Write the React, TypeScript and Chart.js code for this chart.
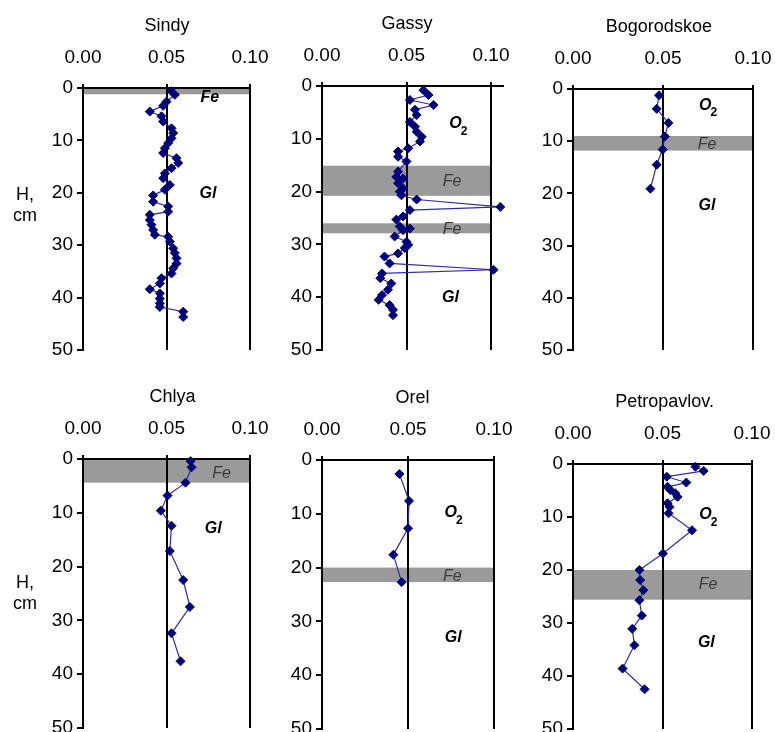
import React, { useEffect, useRef } from "react";
import { Chart, registerables } from "chart.js";

Chart.register(...registerables);

const FONT = '"Liberation Sans", Arial, Helvetica, sans-serif';

// ---- axis ticks ----
const xTickValues = [0, 0.05, 0.1];
const depthTickValues = [0, 10, 20, 30, 40, 50];

// ---- Sindy ----
const sindyDepth = [0.6, 1.3, 2.6, 3.4, 4.5, 5.4, 6.4, 7.7, 8.6, 9.6, 10.5, 11.5, 12.4, 13.4, 14.3, 15.3, 16.3, 17.2, 18.5, 19.4, 20.5, 21.7, 22.6, 23.6, 24.2, 25.2, 26.1, 27.1, 28.0, 28.4, 29.3, 30.6, 31.5, 32.5, 33.5, 34.4, 35.4, 36.3, 37.3, 38.4, 39.2, 40.2, 41.1, 41.8, 42.7, 43.7];
const sindyValue = [0.053, 0.055, 0.050, 0.048, 0.040, 0.047, 0.048, 0.053, 0.054, 0.053, 0.051, 0.049, 0.048, 0.056, 0.057, 0.053, 0.049, 0.048, 0.052, 0.049, 0.042, 0.042, 0.051, 0.051, 0.040, 0.040, 0.041, 0.042, 0.043, 0.051, 0.052, 0.054, 0.055, 0.056, 0.056, 0.054, 0.053, 0.047, 0.046, 0.040, 0.046, 0.046, 0.046, 0.046, 0.060, 0.060];
const sindyBands = [[0, 1.2]];

// ---- Gassy ----
const gassyDepth = [0.8, 1.7, 2.65, 3.6, 4.5, 5.5, 6.8, 7.7, 8.65, 9.6, 10.5, 11.8, 12.4, 13.4, 14.3, 16.2, 17.2, 17.5, 18.4, 19.4, 20.0, 20.7, 21.5, 22.9, 23.5, 24.7, 25.3, 26.6, 27.0, 27.3, 28.5, 29.5, 30.1, 30.7, 31.7, 32.3, 33.6, 34.8, 35.5, 36.4, 37.4, 38.6, 39.6, 40.5, 41.5, 42.4, 43.4];
const gassyValue = [0.060, 0.063, 0.052, 0.066, 0.055, 0.056, 0.052, 0.055, 0.056, 0.059, 0.058, 0.051, 0.045, 0.045, 0.050, 0.045, 0.044, 0.048, 0.045, 0.048, 0.046, 0.047, 0.056, 0.1055, 0.052, 0.048, 0.044, 0.046, 0.052, 0.048, 0.043, 0.050, 0.051, 0.049, 0.045, 0.037, 0.040, 0.1015, 0.0355, 0.0345, 0.041, 0.039, 0.0355, 0.0335, 0.040, 0.042, 0.042];
const gassyBands = [[15.1, 20.8], [26.0, 27.9]];

// ---- Bogorodskoe ----
const bogorDepth = [1.2, 3.8, 6.5, 9.1, 11.6, 14.5, 19.1];
const bogorValue = [0.0478, 0.0465, 0.053, 0.051, 0.0498, 0.0465, 0.043];
const bogorBands = [[9.0, 11.8]];

// ---- Chlya ----
const chlyaDepth = [0.4, 1.55, 4.4, 6.8, 9.6, 12.4, 17.1, 22.5, 27.5, 32.4, 37.6];
const chlyaValue = [0.0644, 0.065, 0.0614, 0.0506, 0.0466, 0.053, 0.052, 0.060, 0.064, 0.053, 0.0584];
const chlyaBands = [[0, 4.4]];

// ---- Orel ----
const orelDepth = [2.6, 7.6, 12.7, 17.6, 22.7];
const orelValue = [0.045, 0.0506, 0.050, 0.0415, 0.0463];
const orelBands = [[20.0, 22.7]];

// ---- Petropavlov. ----
const petroDepth = [0.5, 1.3, 2.4, 3.5, 4.3, 4.9, 5.5, 6.2, 7.4, 8.1, 9.3, 12.5, 16.9, 20.0, 21.9, 23.8, 25.7, 28.6, 31.1, 34.2, 38.6, 42.5];
const petroValue = [0.0684, 0.073, 0.0524, 0.0633, 0.0528, 0.0543, 0.0571, 0.0584, 0.0528, 0.054, 0.0534, 0.0665, 0.0502, 0.0371, 0.0375, 0.0393, 0.0371, 0.0384, 0.0331, 0.0343, 0.0277, 0.040];
const petroBands = [[20.0, 25.6]];

// ---- zone labels (data coordinates) ----
type ZoneLabel = { text: string; sub?: string; x: number; y: number; band?: boolean };
const sindyLabels: ZoneLabel[] = [
  { text: "Fe", x: 0.076, y: 1.9 },
  { text: "Gl", x: 0.0748, y: 20.1 },
];
const gassyLabels: ZoneLabel[] = [
  { text: "O", sub: "2", x: 0.079, y: 7.2 },
  { text: "Fe", x: 0.077, y: 18.1, band: true },
  { text: "Fe", x: 0.077, y: 27.2, band: true },
  { text: "Gl", x: 0.076, y: 40.1 },
];
const bogorLabels: ZoneLabel[] = [
  { text: "O", sub: "2", x: 0.0735, y: 3.1 },
  { text: "Fe", x: 0.0745, y: 10.6, band: true },
  { text: "Gl", x: 0.0744, y: 22.3 },
];
const chlyaLabels: ZoneLabel[] = [
  { text: "Fe", x: 0.083, y: 2.7, band: true },
  { text: "Gl", x: 0.078, y: 12.9 },
];
const orelLabels: ZoneLabel[] = [
  { text: "O", sub: "2", x: 0.0748, y: 9.8 },
  { text: "Fe", x: 0.0758, y: 21.7, band: true },
  { text: "Gl", x: 0.0763, y: 33.0 },
];
const petroLabels: ZoneLabel[] = [
  { text: "O", sub: "2", x: 0.074, y: 9.5 },
  { text: "Fe", x: 0.0754, y: 22.8, band: true },
  { text: "Gl", x: 0.0745, y: 33.7 },
];

type PanelCfg = {
  title: string;
  depth: number[];
  value: number[];
  bands: number[][];
  labels: ZoneLabel[];
  box: { x0: number; x1: number; y0: number; y1: number };
  xMax: number;
  titleAt: number;
  hLabelAt?: number;
};

const PANELS: PanelCfg[] = [
  { title: "Sindy", depth: sindyDepth, value: sindyValue, bands: sindyBands, labels: sindyLabels, box: { x0: 83, x1: 250, y0: 88, y1: 350 }, xMax: 0.1, titleAt: 0.0503, hLabelAt: 21.4 },
  { title: "Gassy", depth: gassyDepth, value: gassyValue, bands: gassyBands, labels: gassyLabels, box: { x0: 322, x1: 491, y0: 86, y1: 350 }, xMax: 0.107, titleAt: 0.0503 },
  { title: "Bogorodskoe", depth: bogorDepth, value: bogorValue, bands: bogorBands, labels: bogorLabels, box: { x0: 573, x1: 753, y0: 89, y1: 350 }, xMax: 0.1, titleAt: 0.0477 },
  { title: "Chlya", depth: chlyaDepth, value: chlyaValue, bands: chlyaBands, labels: chlyaLabels, box: { x0: 83, x1: 250, y0: 459, y1: 728 }, xMax: 0.1, titleAt: 0.0536, hLabelAt: 24.0 },
  { title: "Orel", depth: orelDepth, value: orelValue, bands: orelBands, labels: orelLabels, box: { x0: 322, x1: 494, y0: 460, y1: 729 }, xMax: 0.1, titleAt: 0.0526 },
  { title: "Petropavlov.", depth: petroDepth, value: petroValue, bands: petroBands, labels: petroLabels, box: { x0: 573, x1: 752, y0: 464, y1: 729 }, xMax: 0.1, titleAt: 0.0512 },
];

const LEFT = 83;
const TOP = 88;
const RIGHT = 26;
const BOTTOM = 16;
const Y_AXIS_W = 50;
const X_AXIS_H = 60;

function Panel({ p }: { p: PanelCfg }) {
  const ref = useRef<HTMLCanvasElement | null>(null);
  const plotW = ((p.box.x1 - p.box.x0) * p.xMax) / 0.1;
  const W = Math.ceil(LEFT + plotW + RIGHT);
  const padR = W - LEFT - plotW;
  const H = TOP + (p.box.y1 - p.box.y0) + BOTTOM;

  useEffect(() => {
    const canvas = ref.current;
    if (!canvas) return;

    const decor = {
      id: "panelDecor",
      beforeDraw(chart: any) {
        const { ctx, scales } = chart;
        const x = scales.x;
        const y = scales.y;
        ctx.save();
        ctx.fillStyle = "#9a9a9a";
        const l = x.getPixelForValue(0);
        const r = x.getPixelForValue(0.1);
        for (const [a, b] of p.bands) {
          const t = y.getPixelForValue(a);
          const bt = y.getPixelForValue(b);
          ctx.fillRect(l, t, r - l, bt - t);
        }
        ctx.restore();
      },
      afterDraw(chart: any) {
        const { ctx, chartArea, scales } = chart;
        const x = scales.x;
        const y = scales.y;
        ctx.save();
        // title
        ctx.fillStyle = "#000";
        ctx.font = `18px ${FONT}`;
        ctx.textAlign = "center";
        ctx.textBaseline = "middle";
        ctx.fillText(p.title, x.getPixelForValue(p.titleAt), chartArea.top - 62);
        // zone labels
        for (const lb of p.labels) {
          const px = x.getPixelForValue(lb.x);
          const py = y.getPixelForValue(lb.y);
          ctx.textBaseline = "middle";
          ctx.textAlign = "center";
          if (lb.band) {
            ctx.font = `italic 16px ${FONT}`;
            ctx.fillStyle = "#3a3a3a";
          } else {
            ctx.font = `italic bold 16px ${FONT}`;
            ctx.fillStyle = "#000";
          }
          ctx.fillText(lb.text, px, py);
          if (lb.sub) {
            const w = ctx.measureText(lb.text).width;
            ctx.font = `bold 12px ${FONT}`;
            ctx.textAlign = "left";
            ctx.fillText(lb.sub, px + w / 2 - 1, py + 8);
          }
        }
        // vertical axis caption
        if (p.hLabelAt !== undefined) {
          ctx.fillStyle = "#000";
          ctx.font = `18px ${FONT}`;
          ctx.textAlign = "center";
          ctx.textBaseline = "alphabetic";
          const hy = y.getPixelForValue(p.hLabelAt);
          ctx.fillText("H,", 25, hy);
          ctx.fillText("cm", 25, hy + 21);
        }
        ctx.restore();
      },
    };

    const chart = new Chart(canvas, {
      type: "scatter",
      data: {
        datasets: [
          {
            data: p.depth.map((d, i) => ({ x: p.value[i], y: d })),
            showLine: true,
            borderColor: "#2b2bb0",
            borderWidth: 1.2,
            pointStyle: "rectRot",
            pointRadius: 4.5,
            pointBackgroundColor: "#00007a",
            pointBorderColor: "#00007a",
            pointBorderWidth: 1,
            clip: false as any,
          } as any,
        ],
      },
      options: {
        animation: false,
        responsive: false,
        devicePixelRatio: 1,
        layout: {
          padding: { left: LEFT - Y_AXIS_W, top: TOP - X_AXIS_H, right: padR, bottom: BOTTOM },
        },
        plugins: {
          legend: { display: false },
          tooltip: { enabled: false },
          title: { display: false },
        },
        scales: {
          x: {
            type: "linear",
            position: "top",
            min: 0,
            max: p.xMax,
            afterBuildTicks: (s: any) => {
              s.ticks = xTickValues.map((v) => ({ value: v }));
            },
            afterFit: (s: any) => {
              s.height = X_AXIS_H;
              s.paddingLeft = 0;
              s.paddingRight = 0;
            },
            ticks: {
              font: { family: FONT, size: 19 },
              color: "#000",
              padding: 15,
              maxRotation: 0,
              autoSkip: false,
              callback: (v: any) => Number(v).toFixed(2),
            },
            grid: { color: "#000", lineWidth: 2, tickLength: 4, drawTicks: true, drawOnChartArea: true },
            border: { display: true, color: "#000", width: 2 },
          },
          y: {
            type: "linear",
            position: "left",
            min: 0,
            max: 50,
            reverse: true,
            afterBuildTicks: (s: any) => {
              s.ticks = depthTickValues.map((v) => ({ value: v }));
            },
            afterFit: (s: any) => {
              s.width = Y_AXIS_W;
              s.paddingTop = 0;
              s.paddingBottom = 0;
            },
            ticks: {
              font: { family: FONT, size: 19 },
              color: "#000",
              padding: 4,
              autoSkip: false,
            },
            grid: { color: "#000", lineWidth: 2, tickLength: 6, drawTicks: true, drawOnChartArea: false },
            border: { display: true, color: "#000", width: 2 },
          },
        },
      } as any,
      plugins: [decor],
    });
    return () => chart.destroy();
  }, []);

  return (
    <canvas
      ref={ref}
      width={W}
      height={H}
      style={{ position: "absolute", left: p.box.x0 - LEFT, top: p.box.y0 - TOP, width: W, height: H }}
    />
  );
}

export default function App() {
  return (
    <div
      style={{
        position: "fixed",
        left: 0,
        top: 0,
        width: 775,
        height: 732,
        overflow: "hidden",
        background: "#fff",
      }}
    >
      {PANELS.map((p) => (
        <Panel key={p.title} p={p} />
      ))}
    </div>
  );
}
